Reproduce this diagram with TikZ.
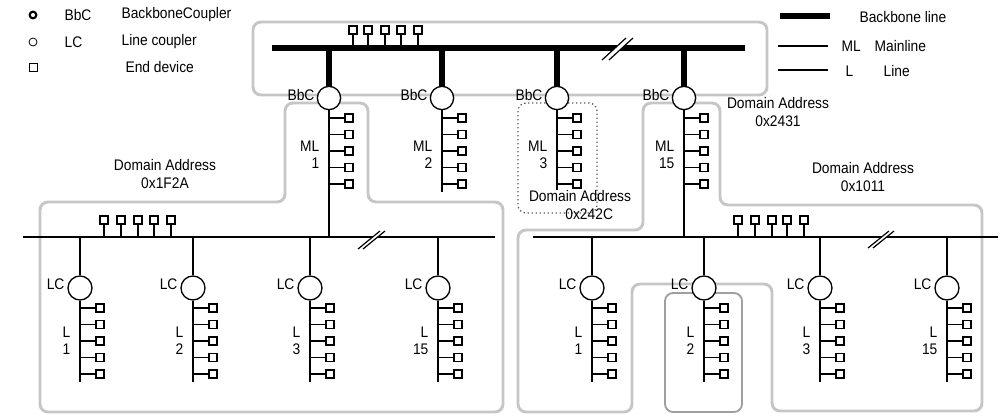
\documentclass[tikz,border=0pt]{standalone}
\usepackage{fontspec}
\setmainfont{Liberation Sans}[FakeStretch=0.9]
\usetikzlibrary{positioning}

\begin{document}
\begin{tikzpicture}[x=0.75pt, y=-0.75pt,
    every node/.style={font=\fontsize{11.5}{13}\selectfont},
    bbc/.style={circle, draw, line width=1pt, fill=white, minimum size=17.5pt, inner sep=0pt},
    lc/.style={circle, draw, line width=1pt, fill=white, minimum size=18pt, inner sep=0pt},
    dev/.style={draw, line width=0.9pt, fill=white, minimum size=6pt, inner sep=0pt},
    bbline/.style={line width=4.5pt},
    bus/.style={line width=1.1pt},
    zone/.style={gray!45, line width=2.2pt, rounded corners=6pt},
    brk/.style={line width=0.9pt},
    lbl/.style={inner sep=1pt, align=center}
]
    \useasboundingbox (0,0) rectangle (1000,415);

    % domains
    \draw[zone] (253,22) rectangle (767,95);
    \draw[zone] (40,412) -- (40,202) -- (285,202) -- (285,103) -- (368,103) -- (368,202)
        -- (503,202) -- (503,412) -- cycle;
    \draw[zone] (518,412) -- (518,230) -- (643,230) -- (643,103) -- (720,103) -- (720,205)
        -- (982,205) -- (982,411) -- (772,411) -- (772,284) -- (632,284) -- (632,412) -- cycle;
    \draw[gray!75, line width=1.4pt, rounded corners=6pt] (665,293) rectangle (742,412);
    \draw[gray!70!black, dotted, line width=1pt, rounded corners=6pt] (518,103) rectangle (597,213);

    % legend
    \node[circle, draw, line width=1.6pt, minimum size=5pt, inner sep=0pt] (lgbbc) at (33,15) {};
    \node[circle, draw, line width=0.6pt, minimum size=6pt, inner sep=0pt] (lglc) at (33,42) {};
    \node[dev, line width=0.6pt] (lgdev) at (33,67) {};
    \node[lbl, anchor=west] (lgbbct) at (63,15) {BbC};
    \node[lbl, anchor=west] (lgbbcd) at (120,15) {BackboneCoupler};
    \node[lbl, anchor=west] (lglct) at (63,42) {LC};
    \node[lbl, anchor=west] (lglcd) at (120,42) {Line coupler};
    \node[lbl, anchor=west] (lgdevd) at (124,67) {End device};
    \coordinate (lgb1) at (780,16);
    \coordinate (lgb2) at (830,16);
    \coordinate (lgm1) at (778,46);
    \coordinate (lgm2) at (828,46);
    \coordinate (lgl1) at (778,70);
    \coordinate (lgl2) at (828,70);
    \draw[bbline] (lgb1) -- (lgb2);
    \draw[bus] (lgm1) -- (lgm2);
    \draw[bus] (lgl1) -- (lgl2);
    \node[lbl, anchor=west] (lgbbt) at (858,17) {Backbone line};
    \node[lbl, anchor=west] (lgmlt) at (840,46) {ML};
    \node[lbl, anchor=west] (lgmld) at (873,46) {Mainline};
    \node[lbl, anchor=west] (lglt) at (844,71) {L};
    \node[lbl, anchor=west] (lgld) at (882,71) {Line};

    % backbone
    \coordinate (bbL) at (272,48);
    \coordinate (bbR) at (745,48);
    \draw[bbline] (bbL) -- (bbR);
    \fill[white] (602,60) -- (626,38) -- (633,38) -- (609,60) -- cycle;
    \draw[brk] (602,60) -- (626,38);
    \draw[brk] (609,60) -- (633,38);
    \foreach \x [count=\i] in {353,368,385,401,418} {
        \node[dev] (bbd\i) at (\x,30) {};
        \draw[bus] (bbd\i.south) -- (bbd\i |- bbL);
    }

    % main lines
    \foreach \x/\n/\e in {329/1/237, 442/2/192, 557/3/190, 684/15/237} {
        \node[bbc] (bbc\n) at (\x,98) {};
        \draw[bbline] (bbc\n |- bbL) -- (bbc\n.north);
        \node[lbl, anchor=east] (bbct\n) at (\x-13,95) {BbC};
        \coordinate (mle\n) at (\x,\e);
        \draw[bus] (bbc\n.south) -- (mle\n);
        \node[lbl, anchor=east, align=right] (mlt\n) at (\x-8,155) {ML\\\n};
        \foreach \j in {1,...,5} {
            \coordinate (ml\n-\j) at (\x,{101.5+16.5*\j});
            \node[dev] (mld\n-\j) at (\x+20,{101.5+16.5*\j}) {};
            \draw[bus] (ml\n-\j) -- (mld\n-\j);
        }
    }

    % line buses
    \coordinate (lbusL) at (23,237);
    \coordinate (lbusR) at (495,237);
    \coordinate (rbusL) at (533,237);
    \coordinate (rbusR) at (998,237);
    \draw[bus] (lbusL) -- (lbusR);
    \draw[bus] (rbusL) -- (rbusR);
    \fill[white] (358,249) -- (380,231) -- (385,231) -- (363,249) -- cycle;
    \draw[brk] (358,249) -- (380,231);
    \draw[brk] (363,249) -- (385,231);
    \fill[white] (868,248) -- (889,231) -- (894,231) -- (873,248) -- cycle;
    \draw[brk] (868,248) -- (889,231);
    \draw[brk] (873,248) -- (894,231);
    \foreach \x [count=\i] in {104,121,138,154,171} {
        \node[dev] (lbd\i) at (\x,220) {};
        \draw[bus] (lbd\i.south) -- (lbd\i |- lbusL);
    }
    \foreach \x [count=\i] in {738,755,772,787,804} {
        \node[dev] (rbd\i) at (\x,220) {};
        \draw[bus] (rbd\i.south) -- (rbd\i |- rbusL);
    }

    % lines
    \foreach \s/\x/\n in {A/80/1, A/193/2, A/310/3, A/438/15, B/592/1, B/704/2, B/820/3, B/947/15} {
        \node[lc] (lc\s\n) at (\x,288) {};
        \draw[bus] (lc\s\n |- lbusL) -- (lc\s\n.north);
        \node[lbl, anchor=east] (lct\s\n) at (\x-14,284) {LC};
        \coordinate (le\s\n) at (\x,382);
        \draw[bus] (lc\s\n.south) -- (le\s\n);
        \node[lbl, anchor=east, align=right] (lt\s\n) at (\x-8,341) {L\\\n};
        \foreach \j in {1,...,5} {
            \coordinate (l\s\n-\j) at (\x,{291.5+16.5*\j});
            \node[dev] (ld\s\n-\j) at (\x+20,{291.5+16.5*\j}) {};
            \draw[bus] (l\s\n-\j) -- (ld\s\n-\j);
        }
    }

    % domain addresses
    \node[lbl] (da1) at (165,174) {Domain Address\\0x1F2A};
    \node[lbl] (da2) at (580,205) {Domain Address\\\hspace*{1.2em}0x242C};
    \node[lbl] (da3) at (778,112) {Domain Address\\0x2431};
    \node[lbl] (da4) at (863,177) {Domain Address\\0x1011};
\end{tikzpicture}
\end{document}
